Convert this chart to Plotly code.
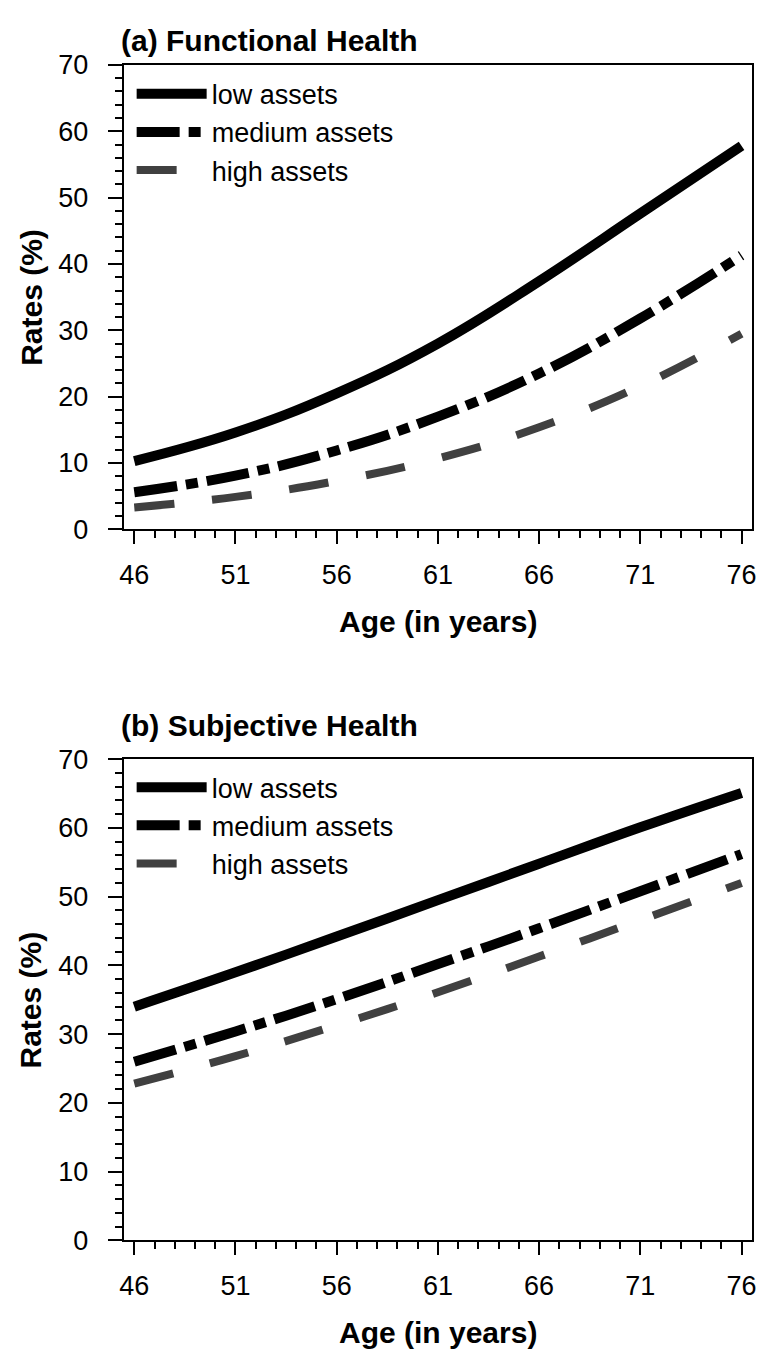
import plotly.graph_objects as go

ages = [46, 51, 56, 61, 66, 71, 76]
series_names = ["low assets", "medium assets", "high assets"]

# (a) Functional Health, rates in %
func_low = [10.3, 14.6, 20.5, 28.0, 37.4, 47.6, 57.8]
func_med = [5.6, 8.1, 11.9, 17.0, 23.5, 31.8, 41.3]
func_high = [3.3, 4.9, 7.3, 10.7, 15.4, 21.6, 29.5]

# (b) Subjective Health, rates in %
subj_low = [34.0, 39.0, 44.2, 49.5, 54.8, 60.1, 65.1]
subj_med = [26.0, 30.4, 35.1, 40.2, 45.4, 50.8, 56.2]
subj_high = [22.8, 26.8, 31.3, 36.1, 41.3, 46.6, 52.0]

panel_titles = ["(a) Functional Health", "(b) Subjective Health"]
x_title = "Age (in years)"
y_title = "Rates (%)"

W, H = 764, 1362
FONT = "Arial, Liberation Sans, Helvetica, sans-serif"

styles = [
    dict(color="#000000", width=10, dash="solid"),
    dict(color="#000000", width=10, dash="43px,9px,12px,9px"),
    dict(color="#404040", width=8, dash="40px,38px"),
]

fig = go.Figure()

panels = [
    (func_low, func_med, func_high, "x", "y", "legend"),
    (subj_low, subj_med, subj_high, "x2", "y2", "legend2"),
]

for (a, b, c, xa, ya, lg) in panels:
    for name, vals, st in zip(series_names, [a, b, c], styles):
        fig.add_trace(go.Scatter(
            x=ages, y=vals, mode="lines", name=name,
            line=dict(color=st["color"], width=st["width"], dash=st["dash"], shape="spline", smoothing=1.2),
            xaxis=xa, yaxis=ya, legend=lg, showlegend=True,
        ))

xdom = [121 / W, 756 / W]
top_dom = [1 - 526 / H, 1 - 51 / H]
bot_dom = [1 - 1253 / H, 1 - 761 / H]

def xaxis(domain, anchor):
    return dict(
        domain=domain, anchor=anchor, range=[45.48, 76.52],
        tick0=46, dtick=5, ticks="outside", ticklen=13, tickwidth=2, tickcolor="#000",
        minor=dict(dtick=1, ticks="outside", ticklen=7, tickwidth=2, tickcolor="#000"),
        showline=True, linecolor="#000", linewidth=2, mirror=True,
        showgrid=False, zeroline=False,
        tickfont=dict(family=FONT, size=27, color="#000"),
        ticklabelstandoff=7,
    )

def yaxis(domain, anchor):
    return dict(
        domain=domain, anchor=anchor, range=[0, 70],
        tick0=0, dtick=10, ticks="outside", ticklen=14, tickwidth=2, tickcolor="#000",
        minor=dict(dtick=2, ticks="outside", ticklen=7, tickwidth=2, tickcolor="#000"),
        showline=True, linecolor="#000", linewidth=2, mirror=True,
        showgrid=False, zeroline=False,
        tickfont=dict(family=FONT, size=27, color="#000"),
        ticklabelstandoff=14,
    )

legend_common = dict(
    font=dict(family=FONT, size=27, color="#000"),
    bgcolor="rgba(0,0,0,0)", borderwidth=0,
    xanchor="left", yanchor="top", itemwidth=70, tracegroupgap=0,
)

fig.update_layout(
    width=W, height=H,
    margin=dict(l=0, r=0, t=0, b=0),
    paper_bgcolor="white", plot_bgcolor="white",
    showlegend=True,
    xaxis=xaxis(xdom, "y"), yaxis=yaxis(top_dom, "x"),
    xaxis2=xaxis(xdom, "y2"), yaxis2=yaxis(bot_dom, "x2"),
    legend=dict(x=129 / W, y=1 - 56 / H, **legend_common),
    legend2=dict(x=129 / W, y=1 - 765 / H, **legend_common),
)

annots = []
for title, ytop in zip(panel_titles, [26, 726]):
    annots.append(dict(text="<b>%s</b>" % title, x=116 / W, y=1 - ytop / H, xref="paper", yref="paper",
                       xanchor="left", yanchor="middle", showarrow=False,
                       font=dict(family=FONT, size=30, color="#000")))
for yc in [620, 1347]:
    annots.append(dict(text="<b>%s</b>" % x_title, x=438.5 / W, y=1 - yc / H, xref="paper", yref="paper",
                       xanchor="center", yanchor="middle", showarrow=False,
                       font=dict(family=FONT, size=30, color="#000")))
for yc in [288.5, 1007]:
    annots.append(dict(text="<b>%s</b>" % y_title, x=27 / W, y=1 - yc / H, xref="paper", yref="paper",
                       xanchor="center", yanchor="middle", showarrow=False, textangle=-90,
                       font=dict(family=FONT, size=30, color="#000")))
fig.update_layout(annotations=annots)

fig.write_html("out.html")
